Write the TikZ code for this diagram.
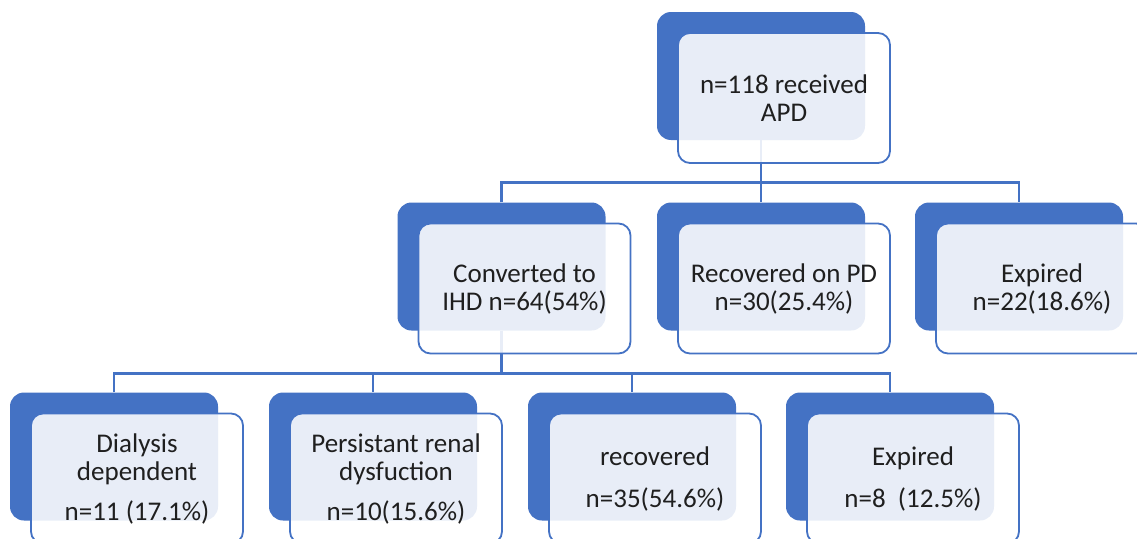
\documentclass[tikz,border=0pt]{standalone}
\usepackage{fontspec}
\setmainfont{Carlito}
\usetikzlibrary{calc}
\definecolor{pptblue}{HTML}{4472C4}
\tikzset{>=latex}
\tikzstyle{back}=[rectangle,fill=pptblue,minimum width=208pt,minimum height=128pt,rounded corners=14pt]
\tikzstyle{front}=[rectangle,draw=pptblue,line width=1.8pt,fill=white,fill opacity=0.88,text opacity=1,minimum width=212pt,minimum height=130pt,rounded corners=12pt,align=center,text=black!88,font=\fontsize{27}{28}\selectfont]
\tikzstyle{link}=[draw=pptblue,line width=2.8pt]

\begin{document}
\begin{tikzpicture}[x=1pt,y=-1pt]
    \useasboundingbox (0,0) rectangle (1137,538);

    % dark boxes behind
    \node[back] (apd) at (761,76) {};
    \node[back] (ihd) at (501.5,266.5) {};
    \node[back] (rpd) at (761,266.5) {};
    \node[back] (exp) at (1019,266.5) {};
    \foreach \i/\x in {1/114,2/373,3/632,4/890} {
        \node[back] (out\i) at (\x,456.5) {};
    };

    % connectors
    \coordinate (bus1) at ($(apd.south)+(0,42)$);
    \draw[link] (apd.south) -- (bus1);
    \draw[link] (ihd.north) |- (bus1) -| (exp.north);
    \draw[link] (bus1) -- (rpd.north);

    \coordinate (bus2) at ($(ihd.south)+(0,43)$);
    \draw[link] (ihd.south) -- (bus2);
    \draw[link] (out1.north) |- (bus2) -| (out4.north);
    \foreach \i in {2,3} {
        \draw[link] (bus2) -| (out\i.north);
    };

    % light boxes in front
    \node[front] (apdf) at ($(apd)+(23,22)$) {n=118 received\\APD};
    \node[front] (ihdf) at ($(ihd)+(23,22)$) {Converted to\\IHD n=64(54\%)};
    \node[front] (rpdf) at ($(rpd)+(23,22)$) {Recovered on PD\\n=30(25.4\%)};
    \node[front] (expf) at ($(exp)+(23,22)$) {Expired\\n=22(18.6\%)};

    \node[front] (out1f) at ($(out1)+(23,22)$) {Dialysis\\dependent\\[12pt]n=11 (17.1\%)};
    \node[front] (out2f) at ($(out2)+(23,22)$) {Persistant renal\\dysfuction\\[12pt]n=10(15.6\%)};
    \node[front] (out3f) at ($(out3)+(23,22)$) {recovered\\[14pt]n=35(54.6\%)};
    \node[front] (out4f) at ($(out4)+(23,22)$) {Expired\\[14pt]n=8\ \ (12.5\%)};
\end{tikzpicture}
\end{document}
